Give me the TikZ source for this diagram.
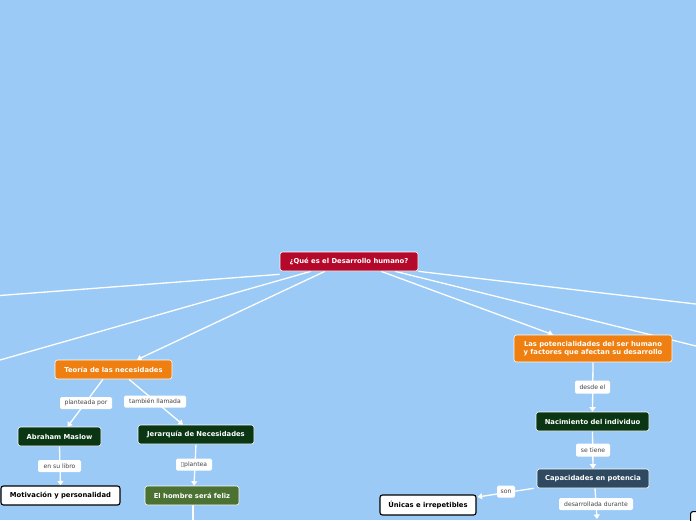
\documentclass[tikz,border=0pt]{standalone}
\usepackage{fontspec}
\setmainfont{DejaVu Sans}
\usetikzlibrary{arrows.meta,calc}
\pgfdeclarelayer{back}
\pgfdeclarelayer{edges}
\pgfsetlayers{back,edges,main}
\definecolor{bg}{HTML}{9ACAF5}
\definecolor{crimson}{HTML}{B5092B}
\definecolor{orng}{HTML}{EE7F10}
\definecolor{dgreen}{HTML}{0A3614}
\definecolor{mgreen}{HTML}{4B7232}
\definecolor{slate}{HTML}{2F4A60}
\definecolor{lblgray}{HTML}{444444}
\tikzset{
 box/.style={draw=white, line width=0.6pt, rounded corners=2.5pt, text=white,
   font=\bfseries\fontsize{6.8}{8.6}\selectfont, inner sep=0pt, minimum height=19pt, align=center},
 wbox/.style={box, fill=white, draw=black, line width=1.1pt, text=black},
 lbl/.style={fill=white, rounded corners=1.5pt, text=lblgray,
   font=\fontsize{6.1}{7}\selectfont, inner sep=0pt, minimum height=12pt},
 edge/.style={draw=white, line width=1.3pt},
 arr/.style={edge, -{Triangle[width=6pt,length=4.5pt]}}
}
\begin{document}
\begin{tikzpicture}[x=1pt,y=-1pt]
\useasboundingbox (0,0) rectangle (696,520);
\clip (0,0) rectangle (696,520);
\begin{pgfonlayer}{back}
\fill[bg] (0,0) rectangle (696,520);
\end{pgfonlayer}
% nodes
\node[box, fill=crimson, minimum width=138pt] (central) at (349,261.5) {¿Qué es el Desarrollo humano?};
\node[box, fill=orng, minimum width=117pt] (teoria) at (113.5,369.5) {Teoría de las necesidades};
\node[box, fill=dgreen, minimum width=83pt] (maslow) at (59.5,436.5) {Abraham Maslow};
\node[box, fill=dgreen, minimum width=116pt] (jerarquia) at (196,434.5) {Jerarquía de Necesidades};
\node[wbox, minimum width=119pt] (motivacion) at (60.5,495.5) {Motivación y personalidad};
\node[box, fill=mgreen, minimum width=94pt] (hombre) at (192,495.5) {El hombre será feliz};
\node[box, fill=orng, minimum width=158pt, minimum height=27pt] (potenc) at (593,348.5) {Las potencialidades del ser humano\\ y factores que afectan su desarrollo};
\node[box, fill=dgreen, minimum width=113pt] (nacimiento) at (592.5,421.5) {Nacimiento del individuo};
\node[box, fill=slate, minimum width=112pt] (capacidades) at (593,478.5) {Capacidades en potencia};
\node[wbox, minimum width=96pt, minimum height=20pt] (unicas) at (428,505) {Únicas e irrepetibles};
\node[wbox, minimum width=60pt, minimum height=40pt, anchor=north west] (cutnode) at (690,511) {};
% off-canvas ends
\coordinate (offL1) at (-20,297);
\coordinate (offL2) at (-20,365.7);
\coordinate (offR1) at (716,306.4);
\coordinate (offR2) at (716,351);
\coordinate (offB1) at (193,540);
\coordinate (offB2) at (597,519);
% edges
\begin{pgfonlayer}{edges}
\draw[edge] ($(central.south west)+(0,3)$) -- (offL1);
\draw[edge] ($(central.south)+(-38,0)$) -- (offL2);
\draw[arr] ($(central.south)+(-24,0)$) -- ($(teoria.north)+(23.5,0)$);
\draw[edge] (central.south east) -- (offR1);
\draw[edge] ($(central.south)+(46,0)$) -- (offR2);
\draw[arr] ($(central.south)+(32,0)$) -- ($(potenc.north)+(-40,0)$);
\draw[arr] ($(teoria.south)+(-10.5,0)$) -- ($(maslow.north)+(8,0)$);
\draw[arr] ($(teoria.south)+(15.5,0)$) -- ($(jerarquia.north)+(-13,0)$);
\draw[arr] (maslow.south) -- (motivacion.north);
\draw[arr] (jerarquia.south) -- ($(hombre.north)+(2,0)$);
\draw[edge] ($(hombre.south)+(1,0)$) -- (offB1);
\draw[arr] (potenc.south) -- (nacimiento.north);
\draw[arr] (nacimiento.south) -- (capacidades.north);
\draw[arr] ($(capacidades.south west)+(-3,0)$) -- ($(unicas.east)+(1,-8)$);
\draw[arr] ($(capacidades.south)+(2,0)$) -- (offB2);
\end{pgfonlayer}
% labels
\node[lbl, minimum width=52pt] (l1) at (86,403) {planteada por};
\node[lbl, minimum width=62pt] (l2) at (155,401.5) {también llamada};
\node[lbl, minimum width=43pt] (l3) at (59.5,466) {en su libro};
\node[lbl, minimum width=36pt] (l4) at (194,464.5) {▯plantea};
\node[lbl, minimum width=35pt, minimum height=13pt] (l5) at (592.5,387) {desde el};
\node[lbl, minimum width=34pt, minimum height=13pt] (l6) at (593,450) {se tiene};
\node[lbl, minimum width=18pt] (l7) at (506,491.5) {son};
\node[lbl, minimum width=74pt] (l8) at (596,504) {desarrollada durante};
\end{tikzpicture}
\end{document}
